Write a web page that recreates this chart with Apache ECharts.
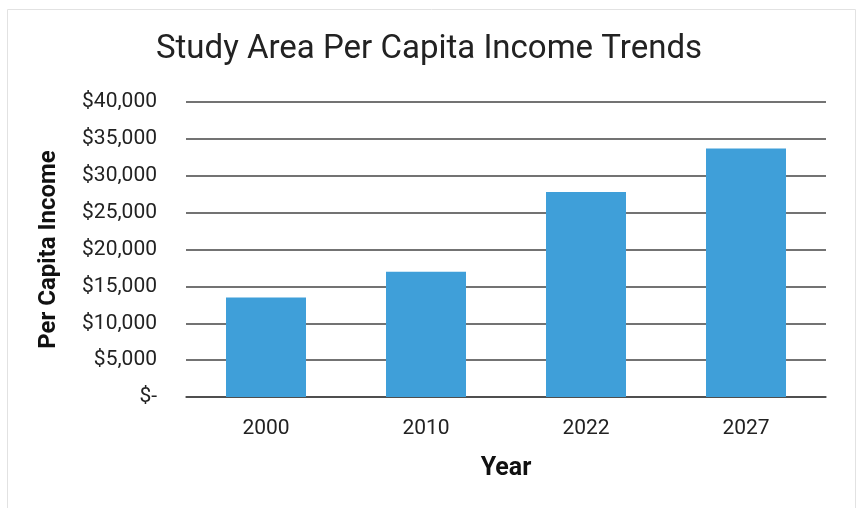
<!DOCTYPE html>
<html>
<head>
<meta charset="utf-8">
<script src="https://cdn.jsdelivr.net/npm/echarts@6/dist/echarts.min.js"></script>
<style>html,body{margin:0;padding:0;background:#fff}#c{width:858px;height:508px}</style>
</head>
<body>
<div id="c"></div>
<script>
const years = ['2000', '2010', '2022', '2027'];
const perCapitaIncome = [13500, 17000, 27800, 33700];
const yTicks = [0, 5000, 10000, 15000, 20000, 25000, 30000, 35000, 40000];

const chart = echarts.init(document.getElementById('c'), null, {renderer: 'canvas'});
function fmt(v) {
  if (v === 0) return '$-';
  return '$' + v.toLocaleString('en-US');
}
chart.setOption({
  backgroundColor: '#fff',
  animation: false,
  graphic: [{
    type: 'rect', left: 5, top: 7, shape: {width: 848, height: 500},
    style: {fill: 'none', stroke: '#e2e2e2', lineWidth: 1}, silent: true
  }],
  title: {
    text: 'Study Area Per Capita Income Trends',
    left: 'center', top: 28,
    textStyle: {fontFamily: 'Roboto', fontSize: 33, fontWeight: 'normal', color: '#222'}
  },
  grid: {left: 186, right: 32, top: 102, bottom: 111},
  xAxis: {
    type: 'category', data: years,
    axisLine: {lineStyle: {color: '#444', width: 1.5}},
    axisTick: {show: false},
    axisLabel: {fontFamily: 'Roboto', fontSize: 21, color: '#222', margin: 21},
    name: 'Year', nameLocation: 'middle', nameGap: 59,
    nameTextStyle: {fontFamily: 'Roboto', fontSize: 25, fontWeight: 'bold', color: '#111'}
  },
  yAxis: {
    type: 'value', min: yTicks[0], max: yTicks[yTicks.length - 1], interval: 5000,
    axisLine: {show: false}, axisTick: {show: false},
    splitLine: {lineStyle: {color: '#444', width: 1.5}},
    axisLabel: {fontFamily: 'Roboto', fontSize: 21, color: '#222', margin: 29, formatter: fmt},
    name: 'Per Capita Income', nameLocation: 'middle', nameGap: 125, nameRotate: 90,
    nameTextStyle: {fontFamily: 'Roboto', fontSize: 24, fontWeight: 'bold', color: '#111'}
  },
  series: [{
    type: 'bar', data: perCapitaIncome, barWidth: '50%',
    itemStyle: {color: '#3f9fd9'}
  }]
});
</script>
</body>
</html>
